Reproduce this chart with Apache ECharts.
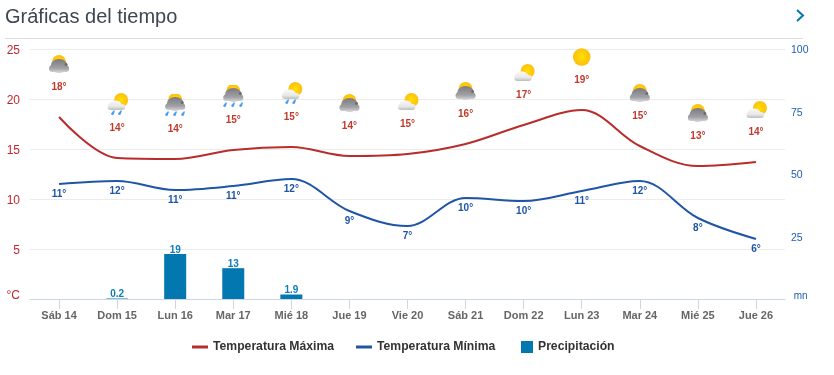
<!DOCTYPE html>
<html><head><meta charset="utf-8">
<style>html,body{margin:0;padding:0;background:#fff}#c{width:834px;height:375px}</style>
<script src="https://cdn.jsdelivr.net/npm/echarts@6/dist/echarts.min.js"></script>
</head><body><div id="c"></div>
<script>
const categories = ['Sáb 14','Dom 15','Lun 16','Mar 17','Mié 18','Jue 19','Vie 20','Sáb 21','Dom 22','Lun 23','Mar 24','Mié 25','Jue 26'];
const tempMax = [18.2,14.1,14.0,14.9,15.2,14.3,14.5,15.5,17.4,18.9,15.3,13.3,13.7];
const tempMin = [11.5,11.8,10.9,11.3,12.0,8.8,7.3,10.1,9.8,10.8,11.8,8.1,6.0];
const maxLabels = ['18°','14°','14°','15°','15°','14°','15°','16°','17°','19°','15°','13°','14°'];
const minLabels = ['11°','12°','11°','11°','12°','9°','7°','10°','10°','11°','12°','8°','6°'];
const precip = [null,0.2,19,13,1.9,null,null,null,null,null,null,null,null];
const iconKinds = ['dark','lightRain','darkRain','darkRain','lightRain','dark','light','dark','light','sun','dark','dark','light'];

const defs = `<defs>
<radialGradient id="s" cx=".5" cy=".5" r=".6"><stop offset="0" stop-color="#ffe000"/><stop offset="1" stop-color="#fdb813"/></radialGradient>
<linearGradient id="d" gradientUnits="userSpaceOnUse" x1="0" y1="7" x2="0" y2="20"><stop offset="0" stop-color="#7a7a80"/><stop offset=".7" stop-color="#a0a0a5"/><stop offset="1" stop-color="#d0d0d3"/></linearGradient>
<linearGradient id="l" gradientUnits="userSpaceOnUse" x1="0" y1="12" x2="0" y2="21"><stop offset="0" stop-color="#f7f7f7"/><stop offset=".6" stop-color="#e8e8e8"/><stop offset="1" stop-color="#bdbdbd"/></linearGradient>
</defs>`;
const darkCloud = `<circle cx="12" cy="10" r="7" fill="url(#s)"/><g fill="url(#d)"><ellipse cx="12" cy="14" rx="8.5" ry="7"/><rect x="2" y="13.5" width="20" height="6.5" rx="3"/></g><circle cx="19" cy="12.5" r="1.5" fill="#6c6c72"/>`;
const lightCloud = `<circle cx="16" cy="11" r="7" fill="url(#s)"/><g fill="url(#l)"><ellipse cx="10" cy="16" rx="6.5" ry="4.5"/><rect x="2.5" y="15" width="17.5" height="6" rx="3"/></g>`;
const drop = x => `<path d="M${x+2.4} 17.4l1.4 0-1.1 3.8c-.6 1.2-3 .9-2.8-.6z" fill="#4a9df0"/>`;
const up = (s, n) => `<g transform="translate(0,${n})">${s}</g>`;
const iconBodies = {
  dark: darkCloud,
  light: lightCloud,
  sun: `<circle cx="12" cy="12" r="8.8" fill="url(#s)"/>`,
  darkRain: up(darkCloud, -4) + drop(2) + drop(10) + drop(18),
  lightRain: up(lightCloud, -4) + drop(6) + drop(13)
};
const iconUri = k => 'image://data:image/svg+xml;charset=utf-8,' + encodeURIComponent(
  `<svg xmlns="http://www.w3.org/2000/svg" width="24" height="24" viewBox="0 0 24 24">${defs}${iconBodies[k]}</svg>`);

const RED = '#b92c2c', BLUE = '#1f55a6', BAR = '#0277b0';
const chart = echarts.init(document.getElementById('c'), null, {renderer:'canvas'});
const legendBase = {top:341, padding:0, itemHeight:3, itemWidth:16, itemGap:0, icon:'rect',
  textStyle:{color:'#333', fontSize:12.2, fontWeight:'bold', fontFamily:'Liberation Sans'}, selectedMode:false};
chart.setOption({
  animation:false,
  textStyle:{fontFamily:'Liberation Sans'},
  grid:{left:30, right:49, top:49, bottom:76, containLabel:false},
  title:{text:'Gráficas del tiempo', left:5, top:7, padding:0, textStyle:{color:'#3d4752', fontSize:20, fontWeight:'normal', fontFamily:'Liberation Sans'}},
  graphic:[
    {type:'line', silent:true, shape:{x1:5,y1:38.5,x2:803,y2:38.5}, style:{stroke:'#dddddd', lineWidth:1}},
    {type:'polyline', silent:true, shape:{points:[[797,10],[803,15.5],[797,21]]}, style:{stroke:'#0277b0', lineWidth:2, fill:null}}
  ],
  legend:[
    Object.assign({}, legendBase, {left:192, data:['Temperatura Máxima']}),
    Object.assign({}, legendBase, {left:356, data:['Temperatura Mínima']}),
    Object.assign({}, legendBase, {left:521, itemWidth:12, itemHeight:12, top:341, data:['Precipitación']})
  ],
  xAxis:{type:'category', data:categories, boundaryGap:true,
    axisLine:{show:true, lineStyle:{color:'#ccd6eb', width:1}},
    axisTick:{show:true, alignWithLabel:true, length:10, lineStyle:{color:'#ccd6eb', width:1}},
    axisLabel:{color:'#666', fontSize:11, fontWeight:'bold', margin:11, interval:0}},
  yAxis:[
    {type:'value', min:0, max:25, interval:5,
      axisLine:{show:false}, axisTick:{show:false},
      splitLine:{lineStyle:{color:'#ececec', width:1}},
      axisLabel:{color:'#c0272d', fontSize:12, margin:10, padding:[3,0,0,0], fontFamily:'Liberation Sans',
        formatter:v => v === 0 ? '{u|°C}' : String(v),
        rich:{u:{color:'#c0272d', fontSize:12, padding:[0,0,9,0]}}}},
    {type:'value', min:0, max:100, interval:25, position:'right',
      axisLine:{show:false}, axisTick:{show:false}, splitLine:{show:false},
      axisLabel:{color:'#1f5fae', fontSize:10.5, margin:6, padding:[3,0,0,0],
        formatter:v => v === 0 ? '{u| mn}' : String(v),
        rich:{u:{color:'#1f5fae', fontSize:10, padding:[0,0,9,0]}}}},
    {type:'value', min:0, max:105.5, show:false, splitLine:{show:false}}
  ],
  series:[
    {name:'Temperatura Máxima', type:'line', yAxisIndex:0, smooth:0.35, z:3,
      data:tempMax.map((v,i)=>({value:v, symbol:iconUri(iconKinds[i])})),
      symbolSize:24, symbolOffset:[0,-53], showSymbol:true,
      lineStyle:{color:RED, width:2}, itemStyle:{color:RED},
      label:{show:true, position:'top', distance:0, offset:[0,40], color:'#c0392b', fontSize:10, fontWeight:'bold', fontFamily:'Liberation Sans',
        formatter:p => maxLabels[p.dataIndex]}},
    {name:'Temperatura Mínima', type:'line', yAxisIndex:0, smooth:0.35, z:3,
      data:tempMin, symbol:'circle', symbolSize:0, showSymbol:true,
      lineStyle:{color:BLUE, width:2}, itemStyle:{color:BLUE},
      label:{show:true, position:'bottom', distance:5, color:BLUE, fontSize:10, fontWeight:'bold', fontFamily:'Liberation Sans',
        formatter:p => minLabels[p.dataIndex]}},
    {name:'Precipitación', type:'bar', yAxisIndex:2, barWidth:22, z:2,
      data:precip, itemStyle:{color:BAR},
      label:{show:true, position:'top', distance:0, offset:[0,1], color:'#0f7db8', fontSize:10, fontWeight:'bold', fontFamily:'Liberation Sans',
        formatter:p => p.value == null ? '' : String(p.value)}}
  ]
});
</script></body></html>
